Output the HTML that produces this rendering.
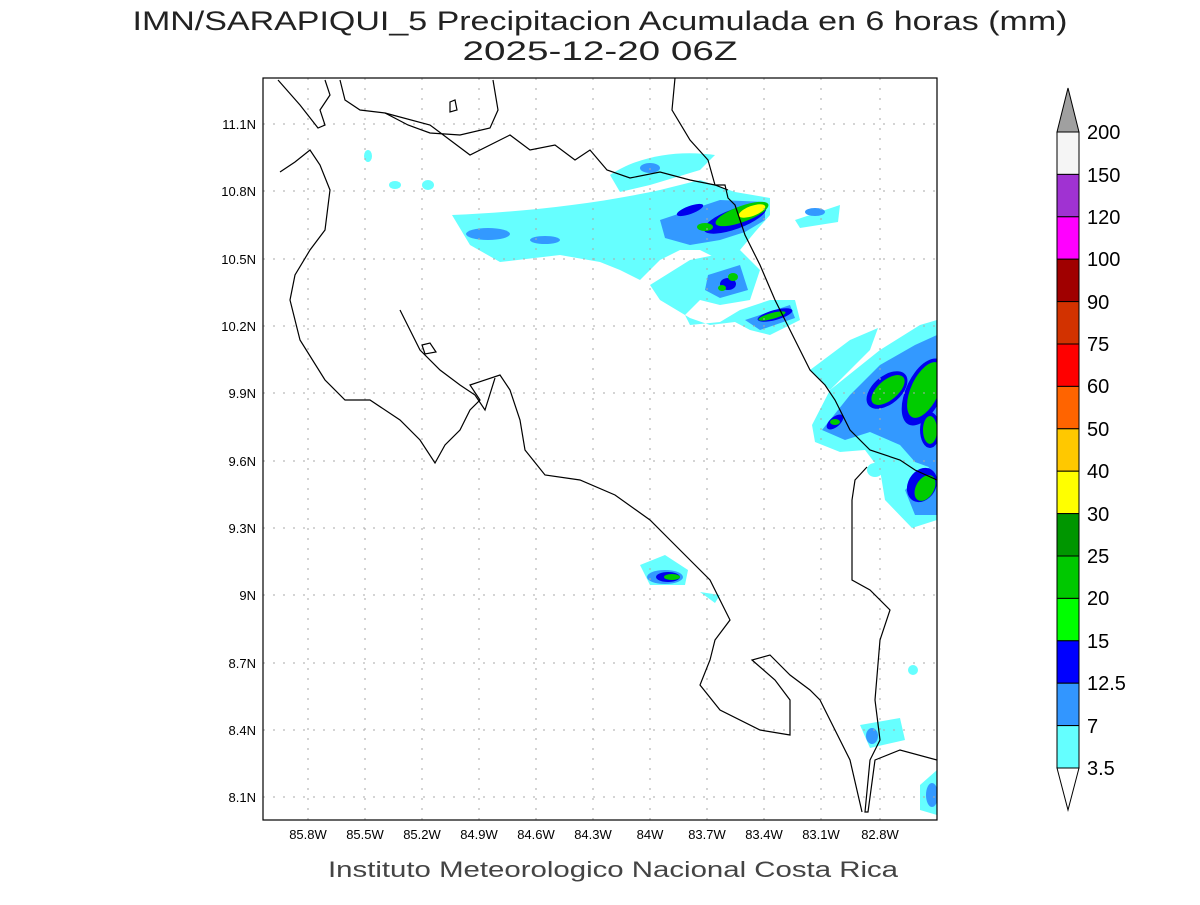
<!DOCTYPE html>
<html><head><style>
body{margin:0;background:#fff;}
svg text{font-family:"Liberation Sans",sans-serif;}
</style></head><body>
<svg width="1200" height="900" viewBox="0 0 1200 900" xmlns="http://www.w3.org/2000/svg">
<text x="600" y="30" font-size="27" text-anchor="middle" fill="#222" textLength="935" lengthAdjust="spacingAndGlyphs">IMN/SARAPIQUI_5 Precipitacion Acumulada en 6 horas (mm)</text>
<text x="600" y="60" font-size="27" text-anchor="middle" fill="#222" textLength="275" lengthAdjust="spacingAndGlyphs">2025-12-20 06Z</text>
<defs><clipPath id="c"><rect x="263" y="78" width="674" height="742"/></clipPath></defs>
<g clip-path="url(#c)">
<g fill="#66ffff">
<path d="M452 215 C520 212 590 205 660 190 L700 180 L735 192 L770 198 L770 215 L755 232 L740 250 L720 260 L700 250 L680 250 L660 260 L640 280 L620 270 L600 262 L560 255 L500 262 L470 245 Z"/>
<path d="M690 260 L740 250 L760 270 L750 300 L720 305 L700 300 L685 315 L690 325 L720 322 L740 310 L770 300 L795 300 L800 320 L770 335 L750 330 L735 322 L710 325 L690 318 L660 300 L650 285 Z"/>
<path d="M610 175 C640 155 680 150 715 155 L700 170 L650 185 L620 192 Z"/>
<path d="M795 220 L840 205 L838 222 L800 228 Z"/>
<path d="M810 370 L850 340 L878 328 L870 350 L845 375 L830 390 Z"/>
<path d="M830 390 L880 350 L920 325 L937 320 L937 520 L912 528 L885 500 L880 470 L865 450 L840 452 L815 442 L812 425 Z"/>
<path d="M640 565 L665 555 L688 570 L685 585 L650 585 Z"/>
<path d="M700 592 L720 595 L715 603 Z"/>
<path d="M860 725 L900 718 L905 740 L870 748 Z"/>
<path d="M920 785 L937 770 L937 815 L920 810 Z"/>
<ellipse cx="368" cy="156" rx="4" ry="6"/><ellipse cx="395" cy="185" rx="6" ry="4"/><ellipse cx="428" cy="185" rx="6" ry="5"/>
<ellipse cx="875" cy="470" rx="8" ry="7"/><ellipse cx="913" cy="670" rx="5" ry="5"/>
</g>
<g fill="#3399ff">
<ellipse cx="488" cy="234" rx="22" ry="6"/><ellipse cx="545" cy="240" rx="15" ry="4"/><ellipse cx="650" cy="168" rx="10" ry="5"/>
<path d="M660 220 L720 200 L765 202 L765 220 L745 232 L720 240 L690 245 L665 238 Z"/>
<path d="M708 275 L740 265 L748 290 L720 298 L705 290 Z"/>
<path d="M745 320 L790 305 L795 318 L760 330 Z"/>
<path d="M822 430 L850 395 L880 365 L915 345 L937 335 L937 470 L915 462 L900 445 L870 432 L845 440 Z"/>
<path d="M905 490 L937 460 L937 515 L915 515 Z"/>
<ellipse cx="665" cy="577" rx="18" ry="7"/><ellipse cx="815" cy="212" rx="10" ry="4"/><ellipse cx="872" cy="736" rx="6" ry="8"/>
<ellipse cx="932" cy="795" rx="6" ry="12"/>
</g>
<g fill="#0000ee">
<ellipse cx="690" cy="210" rx="14" ry="4" transform="rotate(-20 690 210)"/>
<ellipse cx="735" cy="219" rx="33" ry="10" transform="rotate(-20 735 219)"/>
<ellipse cx="728" cy="284" rx="8" ry="6"/><ellipse cx="775" cy="315" rx="18" ry="5" transform="rotate(-15 775 315)"/>
<ellipse cx="887" cy="390" rx="24" ry="14" transform="rotate(-40 887 390)"/>
<ellipse cx="924" cy="392" rx="18" ry="36" transform="rotate(25 924 392)"/>
<ellipse cx="930" cy="430" rx="10" ry="18"/>
<ellipse cx="835" cy="422" rx="10" ry="5" transform="rotate(-40 835 422)"/>
<ellipse cx="922" cy="485" rx="14" ry="18" transform="rotate(30 922 485)"/>
<ellipse cx="668" cy="577" rx="12" ry="5"/>
</g>
<g fill="#00cc00">
<ellipse cx="742" cy="214" rx="28" ry="8" transform="rotate(-20 742 214)"/>
<ellipse cx="705" cy="227" rx="8" ry="4"/>
<ellipse cx="733" cy="277" rx="5" ry="4"/><ellipse cx="722" cy="288" rx="4" ry="3"/>
<ellipse cx="772" cy="316" rx="14" ry="3" transform="rotate(-15 772 316)"/>
<ellipse cx="888" cy="390" rx="20" ry="10" transform="rotate(-40 888 390)"/>
<ellipse cx="925" cy="390" rx="14" ry="30" transform="rotate(25 925 390)"/>
<ellipse cx="930" cy="430" rx="7" ry="14"/>
<ellipse cx="925" cy="488" rx="9" ry="14" transform="rotate(30 925 488)"/>
<ellipse cx="835" cy="422" rx="5" ry="3"/><ellipse cx="672" cy="577" rx="8" ry="3"/>
</g>
<ellipse cx="752" cy="211" rx="14" ry="5" transform="rotate(-20 752 211)" fill="#ffff00"/>
<g stroke="#aaa" stroke-dasharray="2,8" stroke-width="1">
<path d="M308 78V820M365 78V820M422 78V820M479 78V820M536 78V820M593 78V820M650 78V820M707 78V820M764 78V820M821 78V820M880 78V820"/>
<path d="M263 124H937M263 191H937M263 259H937M263 326H937M263 393H937M263 461H937M263 528H937M263 595H937M263 663H937M263 730H937M263 797H937"/>
</g>
<g fill="none" stroke="#000" stroke-width="1.2">
<path d="M278 80 L300 105 L318 128 L325 125 L320 110 L330 95 L325 80"/>
<path d="M340 80 L345 100 L360 110 L385 113 L408 125 L430 133 L460 135 L490 128 L498 110 L493 80"/>
<path d="M385 113 L430 125 L470 155 L510 135 L530 150 L555 145 L575 160 L590 150 L607 170 L630 178 L660 172 L690 180 L715 185 L728 190"/>
<path d="M675 78 L672 110 L690 140 L708 160 L715 185 L725 185 L728 198 L735 205 L745 235 L760 265 L775 300 L790 330 L810 370 L825 385 L835 400 L850 430 L870 450 L900 460 L915 470 L937 480"/>
<path d="M867 467 L855 480 L852 500 L852 580 L870 590 L890 610 L880 640 L875 700 L880 740 L870 760 L865 812 L868 812 L875 760 L900 750 L937 760"/>
<path d="M280 172 L295 162 L310 150 L320 165 L330 190 L325 230 L310 250 L295 275 L290 300 L300 340 L325 380 L345 400 L370 400 L400 420 L420 440 L435 463 L445 445 L460 430 L470 410 L480 400 L470 385 L500 375 L510 390 L520 420 L525 450 L545 475 L580 480 L615 495 L650 520 L670 540 L690 560 L710 580 L720 600 L730 620 L715 640 L710 660 L700 685 L720 710 L760 730 L790 735 L790 700 L775 680 L752 660 L770 655 L790 675 L810 690 L820 700 L830 720 L850 760 L862 812"/>
<path d="M400 310 L410 330 L420 350 L440 370 L460 385 L475 395 L485 410 L495 378"/>
<path d="M422 345 L430 343 L436 352 L425 354 Z"/>
<path d="M450 102 L455 100 L457 110 L450 112 Z"/>
</g>
</g>
<rect x="263" y="78" width="674" height="742" fill="none" stroke="#000" stroke-width="1.2"/>
<g font-size="13" fill="#000" text-anchor="end">
<text x="256" y="129">11.1N</text><text x="256" y="196">10.8N</text><text x="256" y="264">10.5N</text><text x="256" y="331">10.2N</text><text x="256" y="398">9.9N</text><text x="256" y="466">9.6N</text><text x="256" y="533">9.3N</text><text x="256" y="600">9N</text><text x="256" y="668">8.7N</text><text x="256" y="735">8.4N</text><text x="256" y="802">8.1N</text>
</g>
<g font-size="13" fill="#000" text-anchor="middle">
<text x="308" y="839">85.8W</text><text x="365" y="839">85.5W</text><text x="422" y="839">85.2W</text><text x="479" y="839">84.9W</text><text x="536" y="839">84.6W</text><text x="593" y="839">84.3W</text><text x="650" y="839">84W</text><text x="707" y="839">83.7W</text><text x="764" y="839">83.4W</text><text x="821" y="839">83.1W</text><text x="880" y="839">82.8W</text>
</g>
<text x="613" y="877" font-size="22" text-anchor="middle" fill="#444" textLength="570" lengthAdjust="spacingAndGlyphs">Instituto Meteorologico Nacional Costa Rica</text>
<g stroke="#000" stroke-width="1">
<polygon points="1057,132 1079,132 1068,88" fill="#a0a0a0"/>
<rect x="1057" y="132" width="22" height="42.4" fill="#f5f5f5"/>
<rect x="1057" y="174.4" width="22" height="42.4" fill="#a032d2"/>
<rect x="1057" y="216.8" width="22" height="42.4" fill="#ff00ff"/>
<rect x="1057" y="259.2" width="22" height="42.4" fill="#a00000"/>
<rect x="1057" y="301.6" width="22" height="42.4" fill="#d23200"/>
<rect x="1057" y="344" width="22" height="42.4" fill="#ff0000"/>
<rect x="1057" y="386.4" width="22" height="42.4" fill="#ff6400"/>
<rect x="1057" y="428.8" width="22" height="42.4" fill="#ffc800"/>
<rect x="1057" y="471.2" width="22" height="42.4" fill="#ffff00"/>
<rect x="1057" y="513.6" width="22" height="42.4" fill="#009600"/>
<rect x="1057" y="556" width="22" height="42.4" fill="#00c800"/>
<rect x="1057" y="598.4" width="22" height="42.4" fill="#00ff00"/>
<rect x="1057" y="640.8" width="22" height="42.4" fill="#0000ff"/>
<rect x="1057" y="683.2" width="22" height="42.4" fill="#3296ff"/>
<rect x="1057" y="725.6" width="22" height="42.4" fill="#64ffff"/>
<polygon points="1057,768 1079,768 1068,810" fill="#fff"/>
</g>
<g font-size="20" fill="#000">
<text x="1087" y="139">200</text><text x="1087" y="182">150</text><text x="1087" y="224">120</text><text x="1087" y="266">100</text><text x="1087" y="309">90</text><text x="1087" y="351">75</text><text x="1087" y="393">60</text><text x="1087" y="436">50</text><text x="1087" y="478">40</text><text x="1087" y="521">30</text><text x="1087" y="563">25</text><text x="1087" y="605">20</text><text x="1087" y="648">15</text><text x="1087" y="690">12.5</text><text x="1087" y="733">7</text><text x="1087" y="775">3.5</text>
</g>
</svg>
</body></html>
